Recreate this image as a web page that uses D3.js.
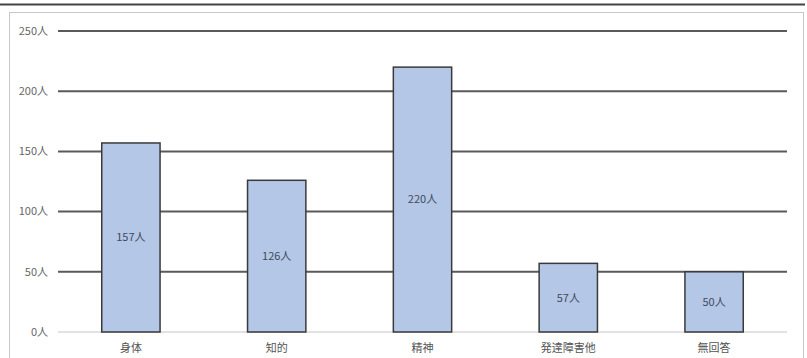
<!DOCTYPE html>
<html>
<head>
<meta charset="utf-8">
<script src="https://cdn.jsdelivr.net/npm/d3@7"></script>
<style>
  body { margin: 0; background: #fff; }
  svg { display: block; font-family: 'Noto Sans CJK JP', 'Noto Sans', sans-serif; }
</style>
</head>
<body>
<svg id="chart" width="807" height="358"></svg>
<script>
// data ------------------------------
const categories = ['身体', '知的', '精神', '発達障害他', '無回答']
const counts = [157, 126, 220, 57, 50]
const yTicks = [0, 50, 100, 150, 200, 250]

const svg = d3.select('#chart')

// page rule and chart frame
svg.append('line')
  .attr('x1', 0).attr('x2', 805).attr('y1', 4.5).attr('y2', 4.5)
  .attr('stroke', '#444').attr('stroke-width', 2)

svg.append('rect')
  .attr('x', 9.5).attr('y', 12.5).attr('width', 794).attr('height', 350)
  .attr('fill', 'none').attr('stroke', '#c8c8c8').attr('stroke-width', 1)

const x = d3.scaleBand().domain(categories).range([58, 787]).paddingInner(0.6).paddingOuter(0.3)
const y = d3.scaleLinear().domain([0, 250]).range([332, 31])

// gridlines
svg.append('g')
  .selectAll('line')
  .data(yTicks)
  .join('line')
  .attr('x1', 58).attr('x2', 787)
  .attr('y1', (d) => y(d)).attr('y2', (d) => y(d))
  .attr('stroke', (d) => (d === 0 ? '#e2e2e2' : '#5a5a5a'))
  .attr('stroke-width', 2)

// y tick labels
svg.append('g')
  .selectAll('text')
  .data(yTicks)
  .join('text')
  .attr('x', 48)
  .attr('y', (d) => y(d))
  .attr('dy', '0.35em')
  .attr('text-anchor', 'end')
  .attr('font-size', 11)
  .attr('fill', '#666')
  .text((d) => `${d}人`)

// bars
svg.append('g')
  .selectAll('rect')
  .data(counts)
  .join('rect')
  .attr('x', (d, i) => x(categories[i]))
  .attr('width', x.bandwidth())
  .attr('y', (d) => y(d))
  .attr('height', (d) => y(0) - y(d))
  .attr('fill', '#b4c7e7')
  .attr('stroke', '#3a3a3a')
  .attr('stroke-width', 1.5)

// value labels in the middle of each bar
svg.append('g')
  .selectAll('text')
  .data(counts)
  .join('text')
  .attr('x', (d, i) => x(categories[i]) + x.bandwidth() / 2)
  .attr('y', (d) => (y(d) + y(0)) / 2)
  .attr('dy', '0.35em')
  .attr('text-anchor', 'middle')
  .attr('font-size', 11)
  .attr('fill', '#404a5a')
  .text((d) => `${d}人`)

// category labels
svg.append('g')
  .selectAll('text')
  .data(categories)
  .join('text')
  .attr('x', (d) => x(d) + x.bandwidth() / 2)
  .attr('y', 348)
  .attr('dy', '0.35em')
  .attr('text-anchor', 'middle')
  .attr('font-size', 11)
  .attr('fill', '#555')
  .text((d) => d)
</script>
</body>
</html>
